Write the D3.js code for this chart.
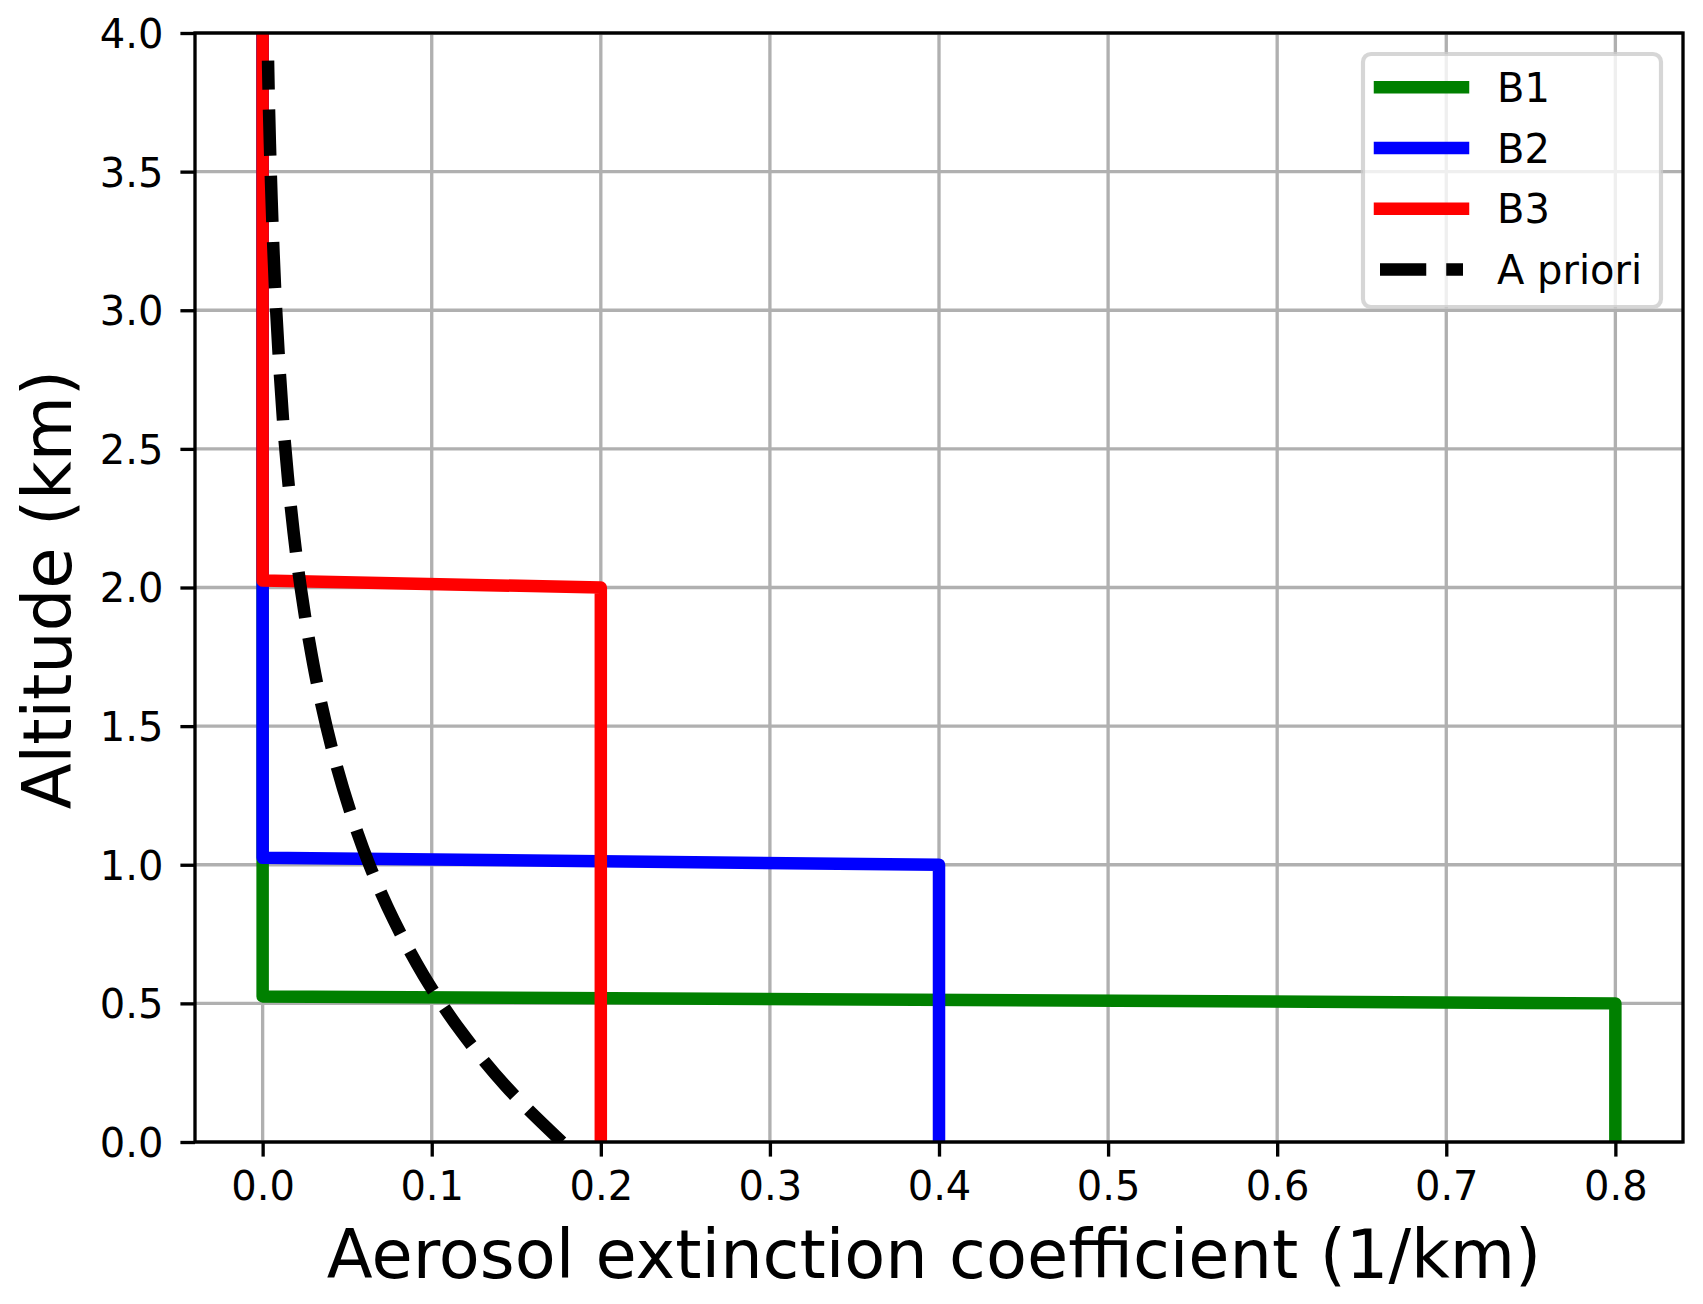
<!DOCTYPE html>
<html>
<head>
<meta charset="utf-8">
<script src="https://cdn.jsdelivr.net/npm/d3@7"></script>
<style>
  html, body { margin: 0; padding: 0; background: #fff; }
  svg { display: block; font-family: "DejaVu Sans", sans-serif; }
</style>
</head>
<body>
<svg id="chart" width="1703" height="1304"></svg>
<script>
// ---------------- data ----------------
const seriesNames = ["B1", "B2", "B3", "A priori"];
const seriesColors = ["#008000", "#0000ff", "#ff0000", "#000000"];

// B1 profile (altitude km, extinction 1/km)
const altB1 = [0.0, 0.5, 0.525, 4.0];
const extB1 = [0.8, 0.8, 0.0, 0.0];
// B2 profile
const altB2 = [0.0, 1.0, 1.025, 4.0];
const extB2 = [0.4, 0.4, 0.0, 0.0];
// B3 profile
const altB3 = [0.0, 2.0, 2.025, 4.0];
const extB3 = [0.2, 0.2, 0.0, 0.0];
// A priori profile
const altApriori = [0.0, 0.2, 0.4, 0.6, 0.8, 1.0, 1.2, 1.4, 1.6, 1.8, 2.0, 2.2, 2.4, 2.6, 2.8, 3.0, 3.2, 3.4, 3.6, 3.8, 3.9];
const extApriori = [0.177, 0.144, 0.1172, 0.0953, 0.0776, 0.0631, 0.0514, 0.0418, 0.034, 0.0277, 0.0225, 0.0183, 0.0149, 0.0121, 0.0099, 0.008, 0.0065, 0.0053, 0.0043, 0.0035, 0.0032];

const xTicks = [0.0, 0.1, 0.2, 0.3, 0.4, 0.5, 0.6, 0.7, 0.8];
const yTicks = [0.0, 0.5, 1.0, 1.5, 2.0, 2.5, 3.0, 3.5, 4.0];
const xLabel = "Aerosol extinction coefficient (1/km)";
const yLabel = "Altitude (km)";

// ---------------- layout ----------------
const L = 195, R = 1683, T = 33, B = 1142;
const lw = 12.5;           // data line width
const thin = 3.33;         // spines / grid
const tickLen = 14.6;

const svg = d3.select("#chart");
const x = d3.scaleLinear().domain([-0.04, 0.84]).range([L, R]);
const y = d3.scaleLinear().domain([0, 4]).range([B, T]);

svg.append("defs").append("clipPath").attr("id", "plotclip")
  .append("rect").attr("x", L).attr("y", T).attr("width", R - L).attr("height", B - T);

// grid
const grid = svg.append("g");
grid.selectAll("line.gx").data(xTicks).join("line")
  .attr("x1", d => x(d)).attr("x2", d => x(d)).attr("y1", T).attr("y2", B)
  .attr("stroke", "#b0b0b0").attr("stroke-width", thin);
grid.selectAll("line.gy").data(yTicks).join("line")
  .attr("y1", d => y(d)).attr("y2", d => y(d)).attr("x1", L).attr("x2", R)
  .attr("stroke", "#b0b0b0").attr("stroke-width", thin);

// lines
const lineGen = d3.line().x(d => x(d[1])).y(d => y(d[0]));
const lineCurve = d3.line().x(d => x(d[1])).y(d => y(d[0])).curve(d3.curveMonotoneY);
const plot = svg.append("g").attr("clip-path", "url(#plotclip)");
const series = [
  d3.zip(altB1, extB1),
  d3.zip(altB2, extB2),
  d3.zip(altB3, extB3)
];
series.forEach((s, i) => {
  plot.append("path").attr("d", lineGen(s)).attr("fill", "none")
    .attr("stroke", seriesColors[i]).attr("stroke-width", lw)
    .attr("stroke-linejoin", "round").attr("stroke-linecap", "square");
});
plot.append("path").attr("d", lineCurve(d3.zip(altApriori, extApriori))).attr("fill", "none")
  .attr("stroke", seriesColors[3]).attr("stroke-width", lw)
  .attr("stroke-dasharray", "46.25,20").attr("stroke-linecap", "butt");

// axes
const xAxis = d3.axisBottom(x).tickValues(xTicks).tickFormat(d3.format(".1f")).tickSize(tickLen).tickPadding(14);
const yAxis = d3.axisLeft(y).tickValues(yTicks).tickFormat(d3.format(".1f")).tickSize(tickLen).tickPadding(17);
const gx = svg.append("g").attr("transform", `translate(0,${B})`).call(xAxis);
const gy = svg.append("g").attr("transform", `translate(${L},0)`).call(yAxis);
[gx, gy].forEach(g => {
  g.select(".domain").remove();
  g.selectAll(".tick line").attr("stroke", "#000").attr("stroke-width", thin);
  g.selectAll(".tick text").attr("font-size", 40).attr("fill", "#000")
    .attr("font-family", "DejaVu Sans");
});
gx.selectAll(".tick text").attr("dy", null).attr("y", null)
  .attr("transform", null).attr("y", 58);
gy.selectAll(".tick text").attr("dy", "0.36em");

// spines
svg.append("rect").attr("x", L).attr("y", T).attr("width", R - L).attr("height", B - T)
  .attr("fill", "none").attr("stroke", "#000").attr("stroke-width", thin);

// axis labels
svg.append("text").attr("x", (L + R) / 2 - 5).attr("y", 1278)
  .attr("text-anchor", "middle").attr("font-size", 67).attr("fill", "#000")
  .text(xLabel);
svg.append("text").attr("transform", `translate(71,${(T + B) / 2 + 2}) rotate(-90)`)
  .attr("text-anchor", "middle").attr("font-size", 67).attr("fill", "#000")
  .text(yLabel);

// legend
const lg = svg.append("g");
lg.append("rect").attr("x", 1363).attr("y", 54).attr("width", 298).attr("height", 253)
  .attr("rx", 8).attr("ry", 8)
  .attr("fill", "#fff").attr("fill-opacity", 0.8)
  .attr("stroke", "#cccccc").attr("stroke-opacity", 0.8).attr("stroke-width", 4.17);
const rowY0 = 87.3, rowDy = 60.7;
seriesNames.forEach((name, i) => {
  const cy = rowY0 + i * rowDy;
  const ln = lg.append("line").attr("x1", 1380).attr("x2", 1463).attr("y1", cy).attr("y2", cy)
    .attr("stroke", seriesColors[i]).attr("stroke-width", lw);
  if (i === 3) ln.attr("stroke-dasharray", "46.25,20").attr("stroke-linecap", "butt");
  else ln.attr("stroke-linecap", "square");
  lg.append("text").attr("x", 1497).attr("y", cy + 14.5)
    .attr("font-size", 40).attr("fill", "#000").text(name);
});
</script>
</body>
</html>
